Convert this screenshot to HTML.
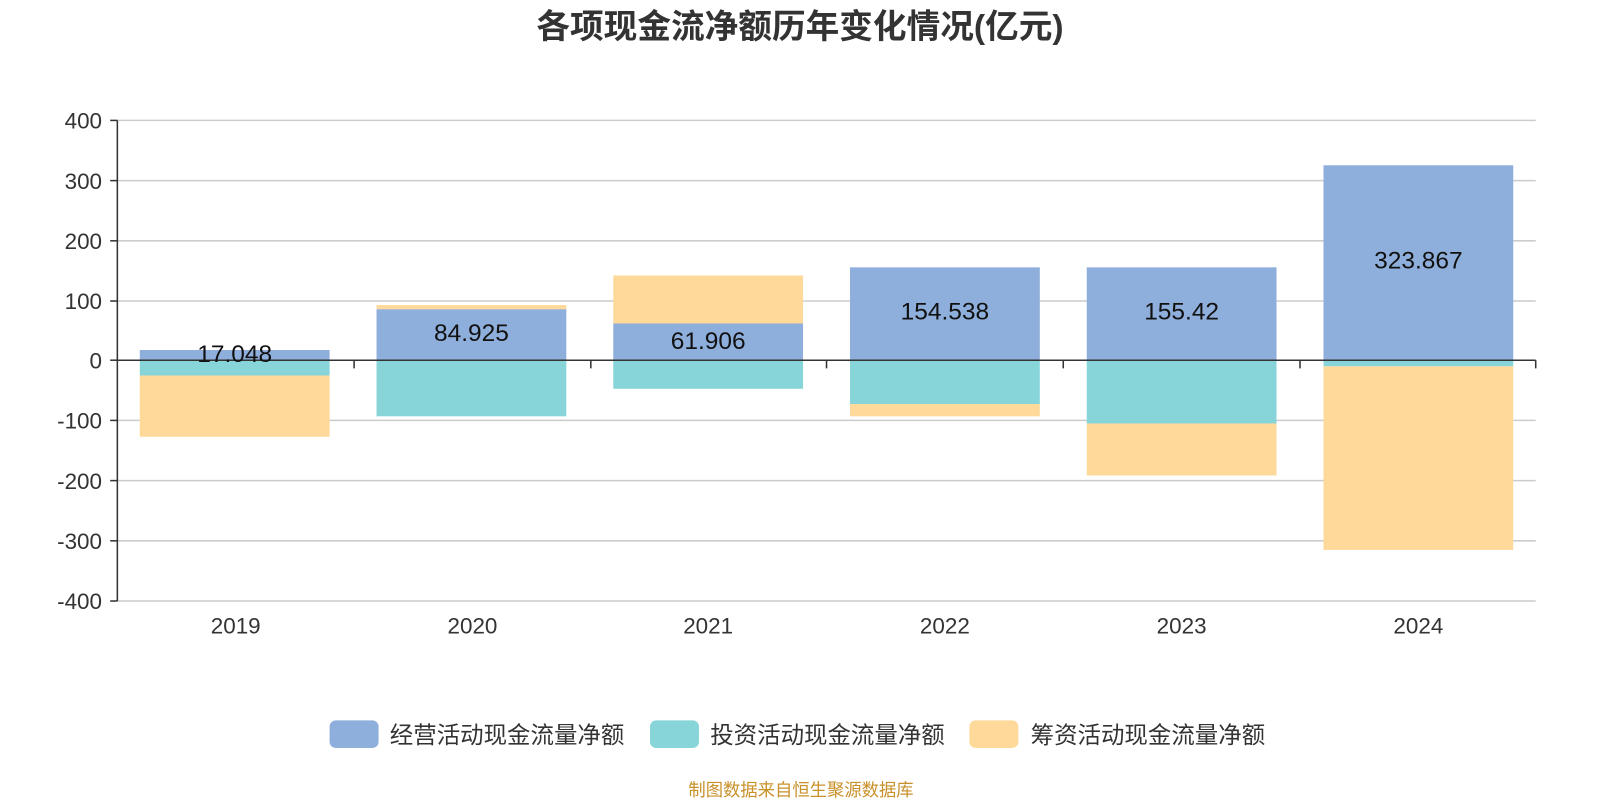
<!DOCTYPE html>
<html><head><meta charset="utf-8"><style>
body{margin:0;background:#fff;width:1600px;height:800px;overflow:hidden}
svg text{font-family:"Liberation Sans","Noto Sans CJK SC",sans-serif}
</style></head><body>
<svg width="1600" height="800" viewBox="0 0 1568 784" xmlns="http://www.w3.org/2000/svg">
<text x="784" y="37" text-anchor="middle" font-size="33" font-weight="bold" fill="#333">各项现金流净额历年变化情况(亿元)</text>
<g stroke="#ccc" stroke-width="1.5">
<line x1="115" x2="1505" y1="118" y2="118"/><line x1="115" x2="1505" y1="177" y2="177"/>
<line x1="115" x2="1505" y1="236" y2="236"/><line x1="115" x2="1505" y1="295" y2="295"/>
<line x1="115" x2="1505" y1="412" y2="412"/><line x1="115" x2="1505" y1="471" y2="471"/>
<line x1="115" x2="1505" y1="530" y2="530"/><line x1="115" x2="1505" y1="589" y2="589"/>
</g>
<g font-size="22" fill="#333" text-anchor="end">
<text x="100" y="126">400</text><text x="100" y="185">300</text><text x="100" y="244">200</text>
<text x="100" y="303">100</text><text x="100" y="361">0</text><text x="100" y="420">-100</text>
<text x="100" y="479">-200</text><text x="100" y="538">-300</text><text x="100" y="597">-400</text>
</g>
<g>
<rect x="137" y="343" width="186" height="10" fill="#8eaedb"/>
<rect x="137" y="353" width="186" height="15" fill="#87d5d8"/>
<rect x="137" y="368" width="186" height="60" fill="#fed99a"/>

<rect x="369" y="303" width="186" height="50" fill="#8eaedb"/>
<rect x="369" y="299" width="186" height="4" fill="#fed99a"/>
<rect x="369" y="353" width="186" height="55" fill="#87d5d8"/>

<rect x="601" y="317" width="186" height="36" fill="#8eaedb"/>
<rect x="601" y="270" width="186" height="47" fill="#fed99a"/>
<rect x="601" y="353" width="186" height="28" fill="#87d5d8"/>

<rect x="833" y="262" width="186" height="91" fill="#8eaedb"/>
<rect x="833" y="353" width="186" height="43" fill="#87d5d8"/>
<rect x="833" y="396" width="186" height="12" fill="#fed99a"/>

<rect x="1065" y="262" width="186" height="91" fill="#8eaedb"/>
<rect x="1065" y="353" width="186" height="62" fill="#87d5d8"/>
<rect x="1065" y="415" width="186" height="51" fill="#fed99a"/>

<rect x="1297" y="162" width="186" height="191" fill="#8eaedb"/>
<rect x="1297" y="353" width="186" height="6" fill="#87d5d8"/>
<rect x="1297" y="359" width="186" height="180" fill="#fed99a"/>
</g>
<g stroke="#333" stroke-width="1.5">
<line x1="115" x2="115" y1="118" y2="589"/>
<line x1="108" x2="115" y1="118" y2="118"/><line x1="108" x2="115" y1="177" y2="177"/>
<line x1="108" x2="115" y1="236" y2="236"/><line x1="108" x2="115" y1="295" y2="295"/>
<line x1="108" x2="115" y1="353" y2="353"/><line x1="108" x2="115" y1="412" y2="412"/>
<line x1="108" x2="115" y1="471" y2="471"/><line x1="108" x2="115" y1="530" y2="530"/>
<line x1="108" x2="115" y1="589" y2="589"/>
<line x1="115" x2="1505" y1="353" y2="353"/>
<line x1="347" x2="347" y1="353" y2="361"/><line x1="579" x2="579" y1="353" y2="361"/>
<line x1="810" x2="810" y1="353" y2="361"/><line x1="1042" x2="1042" y1="353" y2="361"/>
<line x1="1274" x2="1274" y1="353" y2="361"/><line x1="1505" x2="1505" y1="353" y2="361"/>
</g>
<g font-size="24" fill="#111" text-anchor="middle">
<text x="230" y="355">17.048</text><text x="462" y="334">84.925</text>
<text x="694" y="342">61.906</text><text x="926" y="313">154.538</text>
<text x="1158" y="313">155.42</text><text x="1390" y="263">323.867</text>
</g>
<g font-size="22" fill="#333" text-anchor="middle">
<text x="231" y="621">2019</text><text x="463" y="621">2020</text><text x="694" y="621">2021</text>
<text x="926" y="621">2022</text><text x="1158" y="621">2023</text><text x="1390" y="621">2024</text>
</g>
<g font-size="23" fill="#333">
<rect x="323" y="706" width="48" height="27" rx="6" fill="#8eaedb"/><text x="382" y="728">经营活动现金流量净额</text>
<rect x="637" y="706" width="48" height="27" rx="6" fill="#87d5d8"/><text x="696" y="728">投资活动现金流量净额</text>
<rect x="950" y="706" width="48" height="27" rx="6" fill="#fed99a"/><text x="1010" y="728">筹资活动现金流量净额</text>
</g>
<text x="785" y="780" text-anchor="middle" font-size="17" fill="#c8912a">制图数据来自恒生聚源数据库</text>
</svg>
</body></html>
